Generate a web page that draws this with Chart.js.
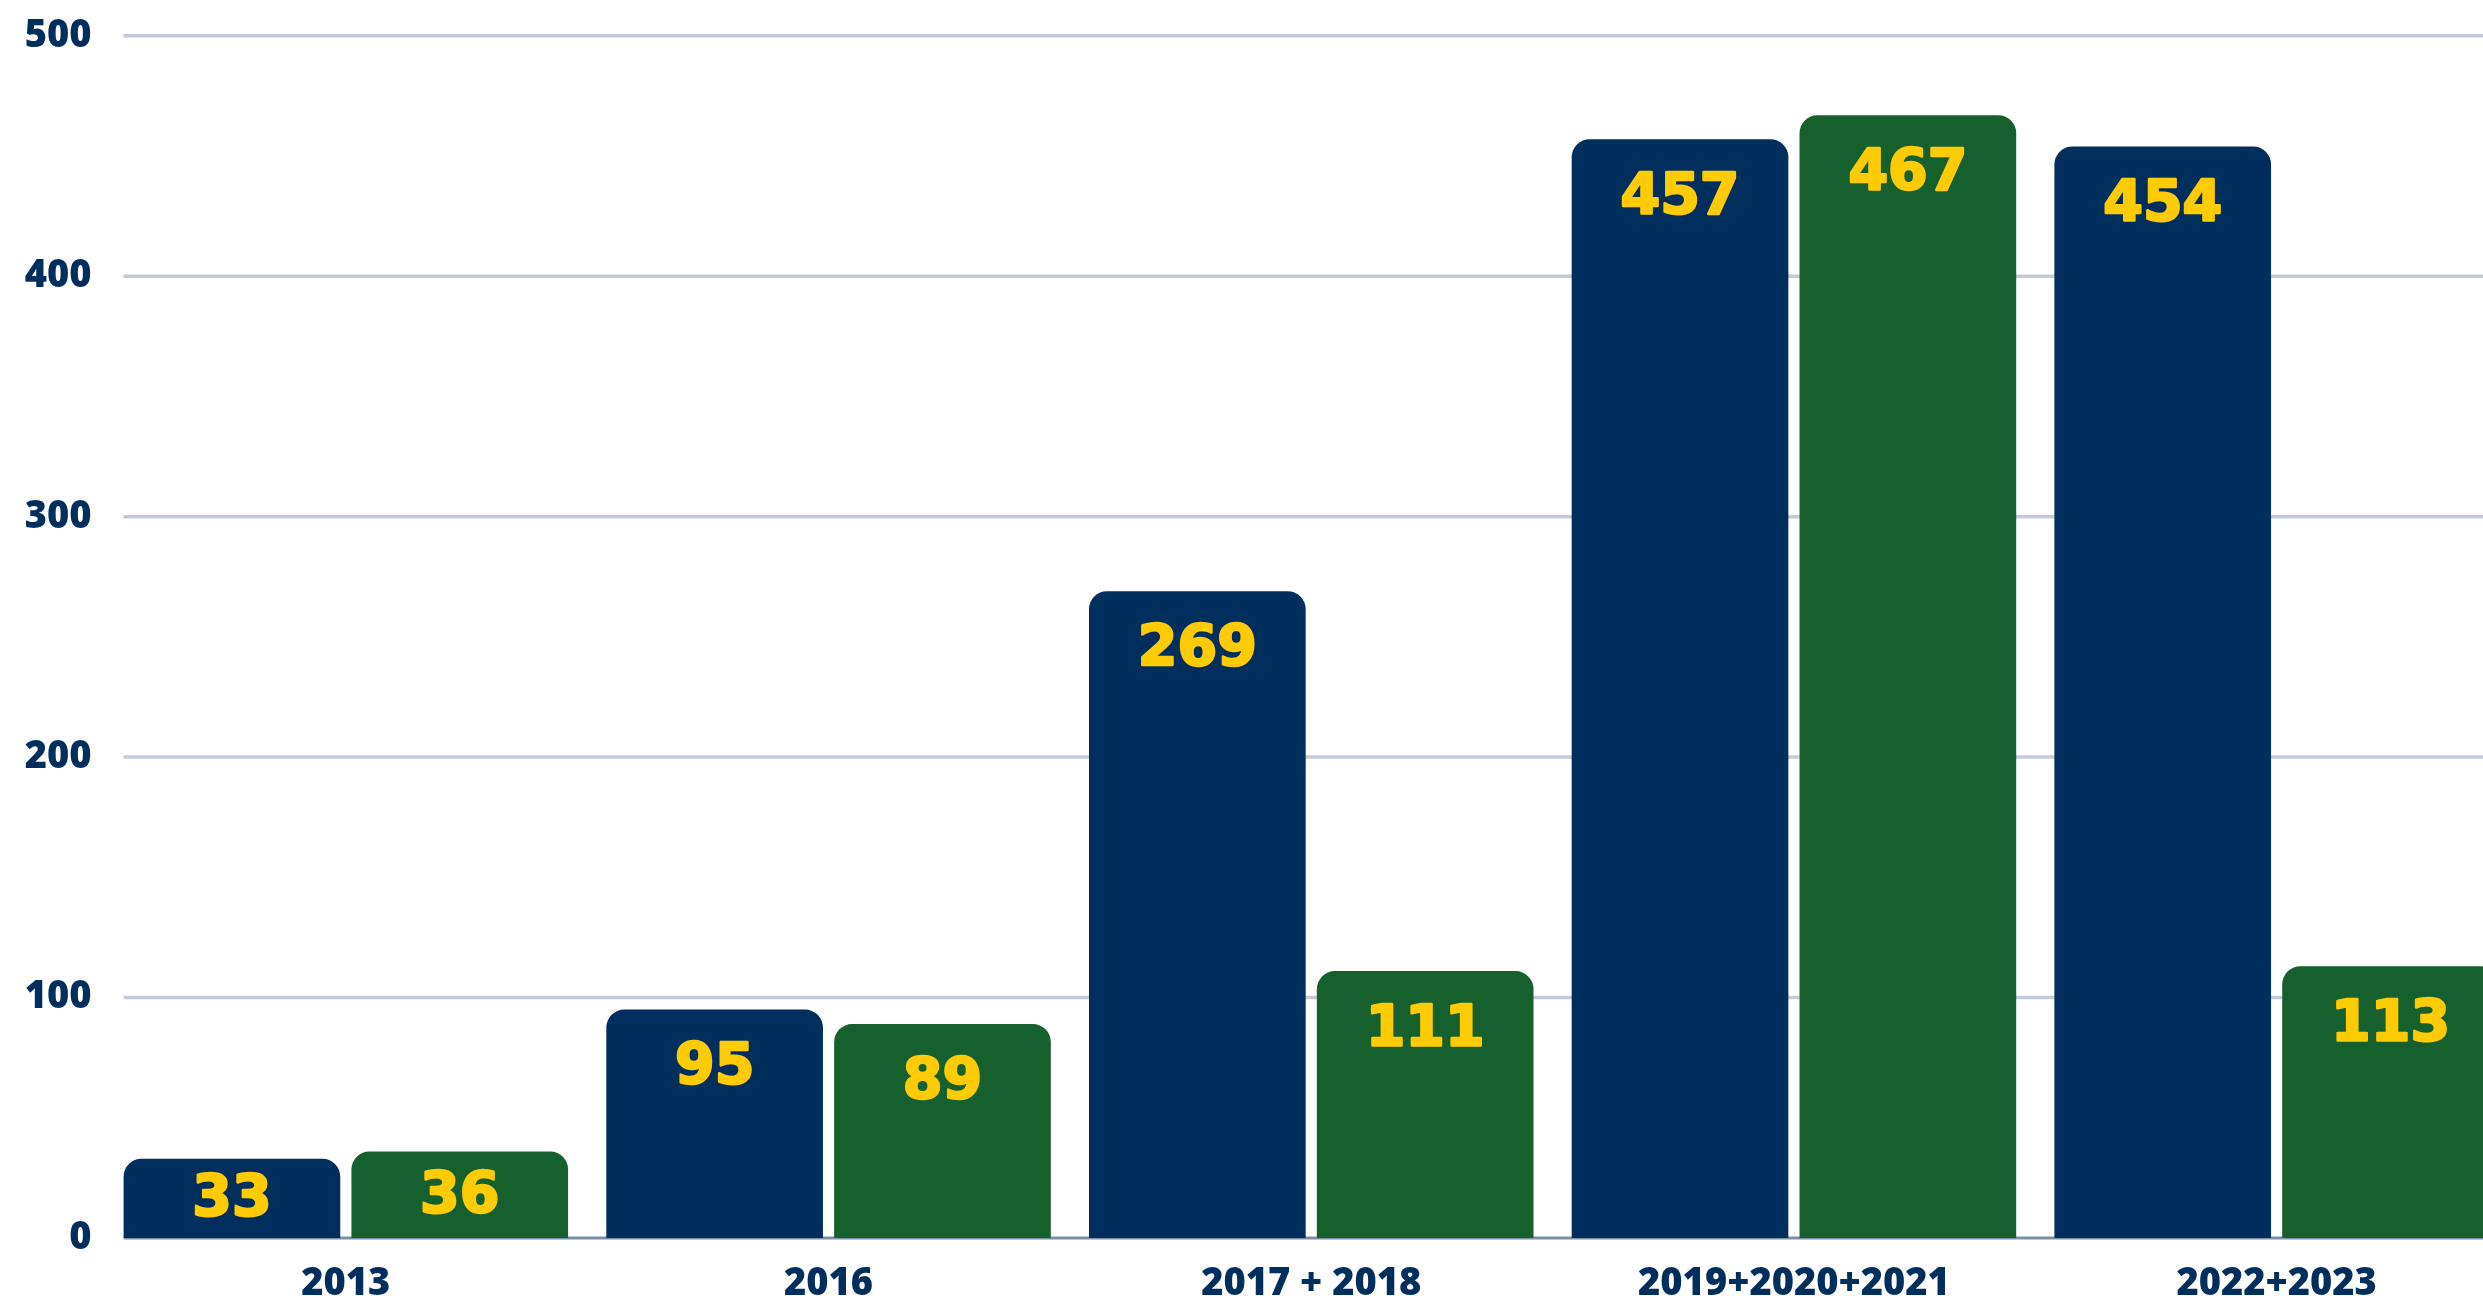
<!DOCTYPE html>
<html>
<head>
<meta charset="utf-8">
<script src="https://cdn.jsdelivr.net/npm/chart.js@4.4.1/dist/chart.umd.min.js"></script>
<style>
  html, body { margin: 0; padding: 0; background: #fff; overflow: hidden; }
  #wrap { position: absolute; left: 0; top: 0; width: 2540px; height: 1298px; }
</style>
</head>
<body>
<div id="wrap"><canvas id="barChart"></canvas></div>
<script>
// dados do gráfico
const categorias = ['2013', '2016', '2017 + 2018', '2019+2020+2021', '2022+2023'];
const serieAzul = [33, 95, 269, 457, 454];
const serieVerde = [36, 89, 111, 467, 113];
const yTicks = [0, 100, 200, 300, 400, 500];

const AZUL = '#002e5d';
const VERDE = '#15602c';
const AMARELO = '#ffcb05';

// linhas de grade desenhadas a partir da borda da primeira barra
const gradePlugin = {
  id: 'grade',
  beforeDatasetsDraw(chart) {
    const { ctx, scales } = chart;
    const bar = chart.getDatasetMeta(0).data[0];
    const x0 = bar.x - bar.width / 2;
    ctx.save();
    yTicks.forEach(v => {
      const y = scales.y.getPixelForValue(v);
      ctx.beginPath();
      ctx.strokeStyle = v === 0 ? '#7b90a8' : '#c2cbd7';
      ctx.lineWidth = v === 0 ? 3 : 3.5;
      ctx.moveTo(x0, y);
      ctx.lineTo(chart.width, y);
      ctx.stroke();
    });
    ctx.restore();
  }
};

// rótulos amarelos dentro das barras
const rotulosPlugin = {
  id: 'rotulos',
  afterDatasetsDraw(chart) {
    const { ctx } = chart;
    ctx.save();
    ctx.fillStyle = AMARELO;
    ctx.strokeStyle = AMARELO;
    ctx.lineWidth = 2.5;
    ctx.lineJoin = 'round';
    ctx.font = 'bold 57px "DejaVu Sans"';
    ctx.textAlign = 'center';
    ctx.textBaseline = 'middle';
    chart.data.datasets.forEach((ds, i) => {
      chart.getDatasetMeta(i).data.forEach((bar, j) => {
        const altura = bar.base - bar.y;
        const y = altura < 120 ? (bar.y + bar.base) / 2 + 3 : bar.y + 60;
        ctx.strokeText(String(ds.data[j]), bar.x, y);
        ctx.fillText(String(ds.data[j]), bar.x, y);
      });
    });
    ctx.restore();
  }
};

new Chart(document.getElementById('barChart'), {
  type: 'bar',
  data: {
    labels: categorias,
    datasets: [
      { label: 'Série 1', data: serieAzul, backgroundColor: AZUL },
      { label: 'Série 2', data: serieVerde, backgroundColor: VERDE }
    ]
  },
  options: {
    responsive: true,
    maintainAspectRatio: false,
    animation: false,
    devicePixelRatio: 1,
    layout: { padding: { top: 29, right: 22, bottom: 0, left: 0 } },
    datasets: {
      bar: {
        categoryPercentage: 0.944,
        barPercentage: 0.951,
        borderRadius: 18,
        borderSkipped: 'start'
      }
    },
    plugins: {
      legend: { display: false },
      tooltip: { enabled: false }
    },
    scales: {
      x: {
        grid: { display: false, drawTicks: false },
        border: { display: false },
        ticks: {
          color: AZUL,
          padding: 23,
          maxRotation: 0,
          autoSkip: false,
          font: { family: 'Open Sans', weight: 800, size: 38 }
        },
        afterFit(scale) { scale.height = 60; }
      },
      y: {
        min: 0,
        max: 500,
        afterBuildTicks(scale) { scale.ticks = yTicks.map(v => ({ value: v })); },
        grid: { display: false, drawTicks: false },
        border: { display: false },
        ticks: {
          color: AZUL,
          padding: 13,
          font: { family: 'Open Sans', weight: 800, size: 38 }
        },
        afterFit(scale) { scale.width = 104.5; }
      }
    }
  },
  plugins: [gradePlugin, rotulosPlugin]
});
</script>
</body>
</html>
